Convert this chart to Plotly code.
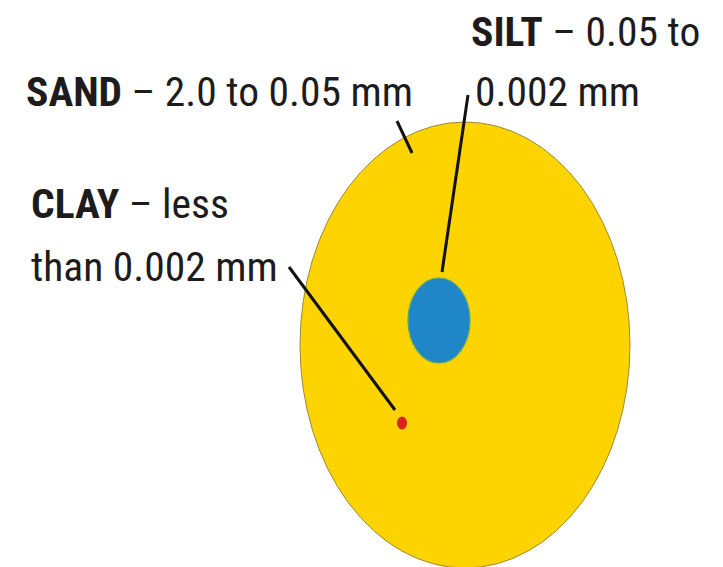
import plotly.graph_objects as go

# Particle classes (data)
particles = ["SAND", "SILT", "CLAY"]
size_ranges = ["2.0 to 0.05 mm", "0.05 to 0.002 mm", "less than 0.002 mm"]

W, H = 723, 567
FONT = "Roboto Condensed, Roboto, sans-serif"
FS = 41.5
TXT = "#1d1b1b"

fig = go.Figure()
fig.add_trace(go.Scatter(x=[0, W], y=[0, H], mode="markers", marker=dict(opacity=0),
                         hoverinfo="skip", showlegend=False))

shapes = []
# sand
shapes.append(dict(type="circle", xref="x", yref="y", x0=300, x1=630, y0=122, y1=568,
                   fillcolor="#FDD400", line=dict(color="#9a8a3a", width=1), layer="above"))
# silt
shapes.append(dict(type="circle", xref="x", yref="y", x0=408, x1=470, y0=278, y1=363,
                   fillcolor="#1F86C8", line=dict(color="#5aa870", width=1.2), layer="above"))
# clay
shapes.append(dict(type="circle", xref="x", yref="y", x0=397, x1=407, y0=416.5, y1=429.5,
                   fillcolor="#D8231E", line=dict(color="#D8231E", width=0), layer="above"))
# leader lines
for (x0, y0, x1, y1) in [(397, 121, 412, 153), (468, 95, 442, 272), (289, 267, 395, 410)]:
    shapes.append(dict(type="line", xref="x", yref="y", x0=x0, y0=y0, x1=x1, y1=y1,
                       line=dict(color="#111111", width=3), layer="above"))

def ann(x, y, text):
    return dict(x=x, y=y, xref="x", yref="y", text=text, showarrow=False,
                xanchor="left", yanchor="middle", font=dict(family=FONT, size=FS, color=TXT))

r0 = size_ranges[0]
r1 = size_ranges[1].split(" ")
r2 = size_ranges[2].split(" ")
annotations = [
    ann(24, 91, f"<b>{particles[0]}</b> – {r0}"),
    ann(469, 31, f"<b>{particles[1]}</b> – {' '.join(r1[:2])}"),
    ann(473, 91, ' '.join(r1[2:])),
    ann(29, 203, f"<b>{particles[2]}</b> – {r2[0]}"),
    ann(29, 266, ' '.join(r2[1:])),
]

fig.update_layout(width=W, height=H, margin=dict(l=0, r=0, t=0, b=0),
                  paper_bgcolor="white", plot_bgcolor="white",
                  xaxis=dict(range=[0, W], visible=False, fixedrange=True),
                  yaxis=dict(range=[H, 0], visible=False, fixedrange=True),
                  shapes=shapes, annotations=annotations, showlegend=False)
fig.write_html("out.html", config={"displayModeBar": False},
               post_script="document.body.style.margin='0';document.body.style.overflow='hidden';")
